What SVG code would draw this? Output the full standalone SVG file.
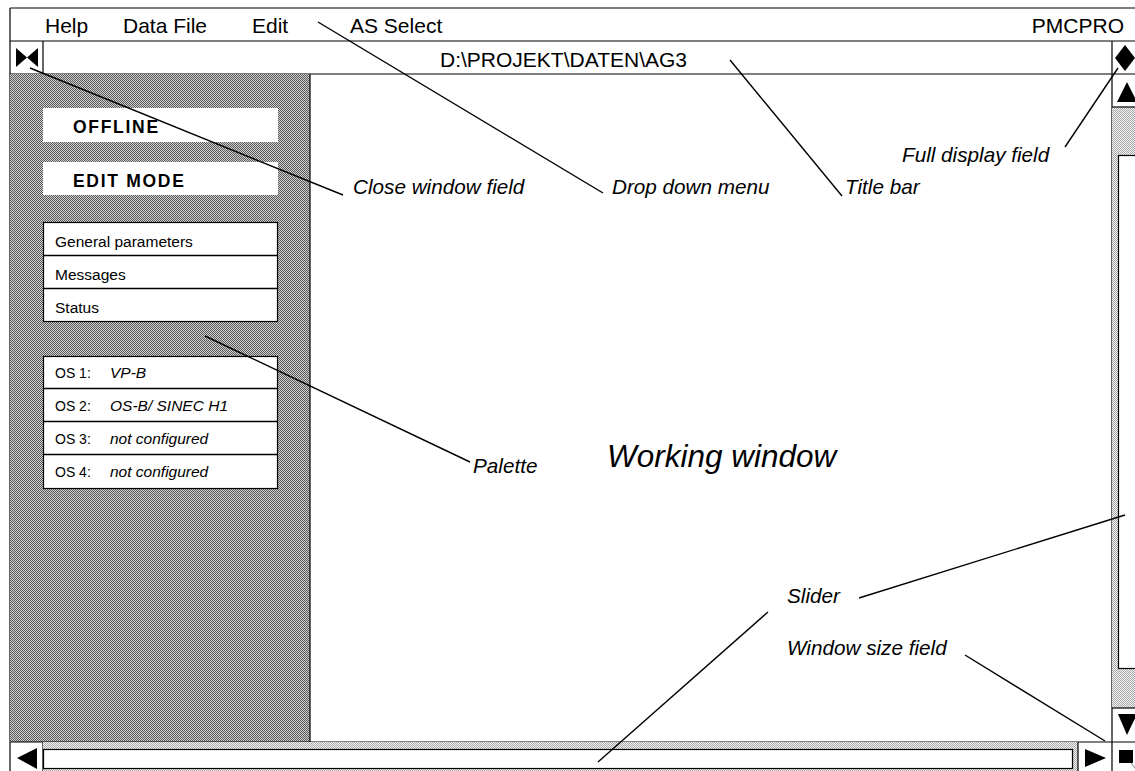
<svg xmlns="http://www.w3.org/2000/svg" width="1135" height="771" viewBox="0 0 1135 771">
<style>
text{font-family:"Liberation Sans",Arial,sans-serif;fill:#000}
.menu{font-size:21px}
.lbl{font-size:20.7px;font-style:italic}
.item{font-size:15.5px}
.os{font-size:14px}
.val{font-size:15.5px;font-style:italic}
.mode{font-size:17.5px;font-weight:bold;letter-spacing:1.7px}
.ln{stroke:#000;stroke-width:1.3;fill:none}
.frame{stroke:#000;stroke-width:1.2;fill:none}
.box{fill:#fff;stroke:#000;stroke-width:1.2}
.conn{stroke:#000;stroke-width:1.4;fill:none}
</style>
<defs>
<pattern id="dark" width="2" height="2" patternUnits="userSpaceOnUse">
<rect width="2" height="2" fill="#cfcfcf"/>
<rect width="1" height="1" fill="#5a5a5a"/>
<rect x="1" y="1" width="1" height="1" fill="#5a5a5a"/>
</pattern>
<pattern id="light" width="2" height="2" patternUnits="userSpaceOnUse">
<rect width="2" height="2" fill="#f4f4f4"/>
<rect width="1" height="1" fill="#a8a8a8"/>
<rect x="1" y="1" width="1" height="1" fill="#a8a8a8"/>
</pattern>
</defs>
<rect width="1135" height="771" fill="#fff"/>

<g id="menubar">
<line class="frame" x1="10" y1="8" x2="1135" y2="8"/>
<line class="frame" x1="10" y1="8" x2="10" y2="771"/>
<text class="menu" x="45" y="33">Help</text>
<text class="menu" x="123" y="33">Data File</text>
<text class="menu" x="252" y="33">Edit</text>
<text class="menu" x="350" y="33">AS Select</text>
<text class="menu" x="1124" y="33" text-anchor="end">PMCPRO</text>
<line class="frame" x1="10" y1="41" x2="1135" y2="41"/>
</g>

<g id="titlebar">
<line class="frame" x1="10" y1="74" x2="1135" y2="74"/>
<text class="menu" x="440" y="67">D:\PROJEKT\DATEN\AG3</text>
</g>

<g id="close-field">
<line class="frame" x1="43" y1="41" x2="43" y2="74"/>
<polygon points="16,48 27,57.5 38,48 38,67 27,57.5 16,67" fill="#000"/>
</g>

<g id="full-display-field">
<line class="frame" x1="1112" y1="41" x2="1112" y2="742"/>
<polygon points="1125,45 1135,58 1125,71 1115,58" fill="#000"/>
</g>

<g id="palette">
<rect x="10" y="74" width="300" height="668" fill="url(#dark)"/>
<line class="frame" x1="310" y1="74" x2="310" y2="742"/>
<rect x="43" y="108" width="235" height="34" fill="#fff"/>
<text class="mode" x="73" y="133">OFFLINE</text>
<rect x="43" y="162" width="235" height="33" fill="#fff"/>
<text class="mode" x="73" y="187">EDIT MODE</text>
<rect class="box" x="43.5" y="222.5" width="234" height="99"/>
<line class="ln" x1="43.5" y1="255.5" x2="277.5" y2="255.5"/>
<line class="ln" x1="43.5" y1="288.5" x2="277.5" y2="288.5"/>
<text class="item" x="55" y="247">General parameters</text>
<text class="item" x="55" y="280">Messages</text>
<text class="item" x="55" y="313">Status</text>
<rect class="box" x="43.5" y="356.5" width="234" height="132"/>
<line class="ln" x1="43.5" y1="388.5" x2="277.5" y2="388.5"/>
<line class="ln" x1="43.5" y1="421.5" x2="277.5" y2="421.5"/>
<line class="ln" x1="43.5" y1="454.5" x2="277.5" y2="454.5"/>
<text class="os" x="55" y="378">OS 1:</text><text class="val" x="110" y="378">VP-B</text>
<text class="os" x="55" y="411">OS 2:</text><text class="val" x="110" y="411">OS-B/ SINEC H1</text>
<text class="os" x="55" y="444">OS 3:</text><text class="val" x="110" y="444">not configured</text>
<text class="os" x="55" y="477">OS 4:</text><text class="val" x="110" y="477">not configured</text>
</g>

<g id="vertical-scrollbar">
<polygon points="1117,102 1127,82 1137,102" fill="#000"/>
<rect x="1112" y="107" width="23" height="601" fill="url(#light)"/>
<line class="frame" x1="1112" y1="107" x2="1135" y2="107"/>
<rect class="box" x="1118.5" y="155.5" width="30" height="513"/>
<line class="frame" x1="1112" y1="708" x2="1135" y2="708"/>
<polygon points="1118,714 1137,714 1127,735" fill="#000"/>
</g>

<g id="horizontal-scrollbar">
<line class="frame" x1="10" y1="742" x2="1135" y2="742"/>
<line class="frame" x1="43" y1="742" x2="43" y2="771"/>
<polygon points="17,758 37,748 37,769" fill="#000"/>
<rect x="43" y="742" width="1035" height="29" fill="url(#light)"/>
<rect class="box" x="43.5" y="749.5" width="1029" height="19"/>
<line class="frame" x1="1078" y1="742" x2="1078" y2="771"/>
<polygon points="1085,749 1106,758 1085,767" fill="#000"/>
</g>

<g id="window-size-field">
<line class="frame" x1="1112" y1="742" x2="1112" y2="771"/>
<rect x="1119" y="750" width="14" height="13" fill="#000"/>
<line x1="1131" y1="763" x2="1135" y2="768" stroke="#999" stroke-width="1.2"/>
</g>

<g id="labels">
<text class="lbl" x="353" y="194">Close window field</text>
<text class="lbl" x="612" y="194">Drop down menu</text>
<text class="lbl" x="845" y="194">Title bar</text>
<text class="lbl" x="902" y="162">Full display field</text>
<text class="lbl" x="473" y="473">Palette</text>
<text x="607" y="467" style="font-size:31.5px;font-style:italic">Working window</text>
<text class="lbl" x="787" y="603">Slider</text>
<text class="lbl" x="787" y="655">Window size field</text>
</g>

<g id="connectors">
<line class="conn" x1="30" y1="68" x2="343" y2="195"/>
<line class="conn" x1="318" y1="22" x2="603" y2="193"/>
<line class="conn" x1="730" y1="60" x2="842" y2="196"/>
<line class="conn" x1="1065" y1="147" x2="1118" y2="68"/>
<line class="conn" x1="205" y1="336" x2="470" y2="462"/>
<line class="conn" x1="859" y1="598" x2="1125" y2="515"/>
<line class="conn" x1="768" y1="612" x2="598" y2="762"/>
<line class="conn" x1="965" y1="655" x2="1105" y2="741"/>
</g>
</svg>
